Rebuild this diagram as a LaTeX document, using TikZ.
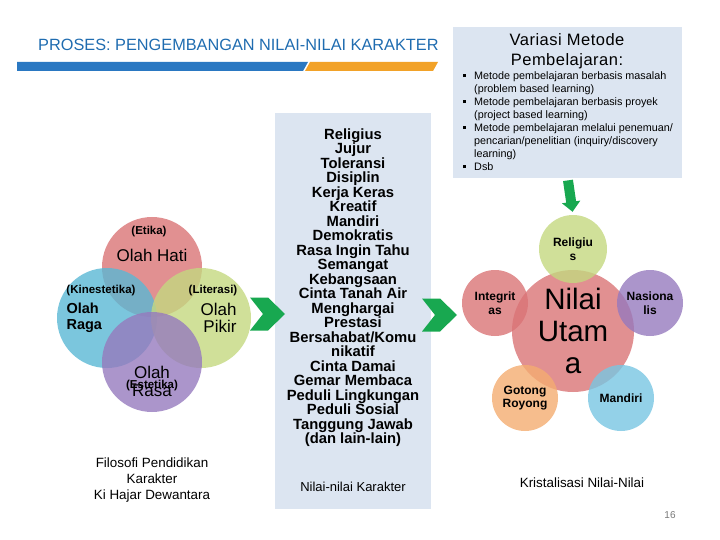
\documentclass[tikz,border=0pt]{standalone}
\usepackage{fontspec}
\setmainfont{Liberation Sans}
\usetikzlibrary{arrows.meta,positioning,calc}

\definecolor{titleblue}{RGB}{31,108,176}
\definecolor{barblue}{RGB}{42,120,194}
\definecolor{barorange}{RGB}{242,162,40}
\definecolor{panel}{RGB}{220,229,241}
\definecolor{chevgreen}{RGB}{24,168,80}
\definecolor{vred}{RGB}{218,116,118}
\definecolor{vblue}{RGB}{90,184,212}
\definecolor{vgreen}{RGB}{196,216,128}
\definecolor{vpurple}{RGB}{150,122,190}
\definecolor{vorange}{RGB}{244,172,112}
\definecolor{vsky}{RGB}{120,198,226}
\definecolor{pagegray}{RGB}{120,120,120}

\newcommand{\fs}[2]{\fontsize{#1}{#2}\selectfont}
\newcommand{\sqb}{\makebox[11pt][l]{\rule[2pt]{2.6pt}{2.6pt}}}
\newcommand{\ind}{\hspace*{11pt}}

\begin{document}
\begin{tikzpicture}[
    x=1pt, y=-1pt,
    panelbox/.style={fill=panel, inner sep=0pt},
    vcircle/.style={circle, fill=#1, fill opacity=0.8, text opacity=1, inner sep=0pt},
    small/.style={font=\bfseries\fs{11.5}{13}},
    satlabel/.style={font=\bfseries\fs{12}{13.5}, align=center, text=black},
    flowarrow/.style={chevgreen, line width=10pt, -{Triangle[width=18pt,length=10pt]}},
    chevron/.pic={\fill[chevgreen] (0,-16.5) -- (18,-16.5) -- (35,0) -- (18,16.5) -- (0,16.5) -- (13,0) -- cycle;}
  ]
    \useasboundingbox (0,0) rectangle (720,540);

    % heading
    \node[anchor=west, inner sep=0pt, text=titleblue, font=\fs{16.3}{18}] (title) at (38,45) {PROSES: PENGEMBANGAN NILAI-NILAI KARAKTER};
    \fill[barblue] (17,62) -- (308,62) -- (303,71) -- (17,71) -- cycle;
    \fill[barorange] (310,62) -- (438,62) -- (433,71) -- (305,71) -- cycle;

    % methods panel
    \node[panelbox, minimum width=229, minimum height=151, anchor=north west] (methods) at (453,27) {};
    \node[font=\fs{16.5}{20}\addfontfeature{LetterSpace=3}, align=center] (mtitle) at (567,51) {Variasi Metode\\Pembelajaran:};
    \node[anchor=north west, inner sep=0pt, align=left, font=\fs{10.8}{13}] (mlist) at (463,71)
      {\sqb Metode pembelajaran berbasis masalah\\
       \ind(problem based learning)\\
       \sqb Metode pembelajaran berbasis proyek\\
       \ind(project based learning)\\
       \sqb Metode pembelajaran melalui penemuan/\\
       \ind pencarian/penelitian (inquiry/discovery\\
       \ind learning)\\
       \sqb Dsb};

    % Venn of the four domains
    \node[vcircle=vred, minimum size=100] (hati) at (152,267) {};
    \node[vcircle=vblue, minimum size=100] (raga) at (107,318) {};
    \node[vcircle=vgreen, minimum size=100] (pikir) at (201,318) {};
    \node[vcircle=vpurple, minimum size=100] (rasa) at (152,362) {};
    \node[small] (etika) at (149,232) {(Etika)};
    \node[font=\fs{17}{18}] (hatitxt) at (152,255) {Olah Hati};
    \node[small] (kines) at (101,291) {(Kinestetika)};
    \node[anchor=west, align=left, font=\bfseries\fs{14.5}{16}] (ragatxt) at (63,318) {Olah\\Raga};
    \node[small] (literasi) at (213,291) {(Literasi)};
    \node[anchor=east, align=right, font=\fs{17}{17}] (pikirtxt) at (240,318) {Olah\\Pikir};
    \node[align=center, font=\fs{17}{18}] (rasatxt) at (152,381) {Olah\\Rasa};
    \node[small] (estetika) at (152,386) {(Estetika)};
    \node[align=center, font=\fs{13.4}{16}] (filosofi) at (152,480) {Filosofi Pendidikan\\Karakter\\Ki Hajar Dewantara};

    % values panel
    \node[panelbox, minimum width=156, minimum height=396, anchor=north west] (values) at (275,113) {};
    \node[anchor=north, align=center, font=\bfseries\fs{14.8}{14.5}] (vlist) at (353,125)
      {Religius\\Jujur\\Toleransi\\Disiplin\\Kerja Keras\\Kreatif\\Mandiri\\Demokratis\\
       Rasa Ingin Tahu\\Semangat\\Kebangsaan\\Cinta Tanah Air\\Menghargai\\Prestasi\\
       Bersahabat/Komu\\nikatif\\Cinta Damai\\Gemar Membaca\\Peduli Lingkungan\\
       Peduli Sosial\\Tanggung Jawab\\(dan lain-lain)};
    \node[font=\fs{13}{14}] (vcaption) at (353,487) {Nilai-nilai Karakter};

    \pic at (250,314) {chevron};
    \pic at (422,315) {chevron};

    % core values
    \node[vcircle=vred, minimum size=122] (utama) at (573,331) {};
    \node[vcircle=vgreen, minimum size=68] (religius) at (573,249) {};
    \node[vcircle=vred, minimum size=66] (integritas) at (495,303) {};
    \node[vcircle=vpurple, minimum size=66] (nasionalis) at (650,303) {};
    \node[vcircle=vorange, minimum size=66] (gotong) at (525,398) {};
    \node[vcircle=vsky, minimum size=66] (mandiri) at (621,398) {};
    \node[align=center, font=\fs{29.5}{32}] (utamatxt) at (573,331) {Nilai\\Utam\\a};
    \node[satlabel] at (religius) {Religiu\\s};
    \node[satlabel] at (integritas) {Integrit\\as};
    \node[satlabel] at (nasionalis) {Nasiona\\lis};
    \node[satlabel] at (gotong) {Gotong\\Royong};
    \node[satlabel] at (mandiri) {Mandiri};
    \node[font=\fs{13.4}{14}] (kristal) at (582,483) {Kristalisasi Nilai-Nilai};

    \draw[flowarrow, shorten <=2pt, shorten >=3pt] (methods.south) -- (religius.north);

    \node[text=pagegray, font=\fs{10}{12}] (page) at (670,515) {16};
  \end{tikzpicture}
\end{document}
